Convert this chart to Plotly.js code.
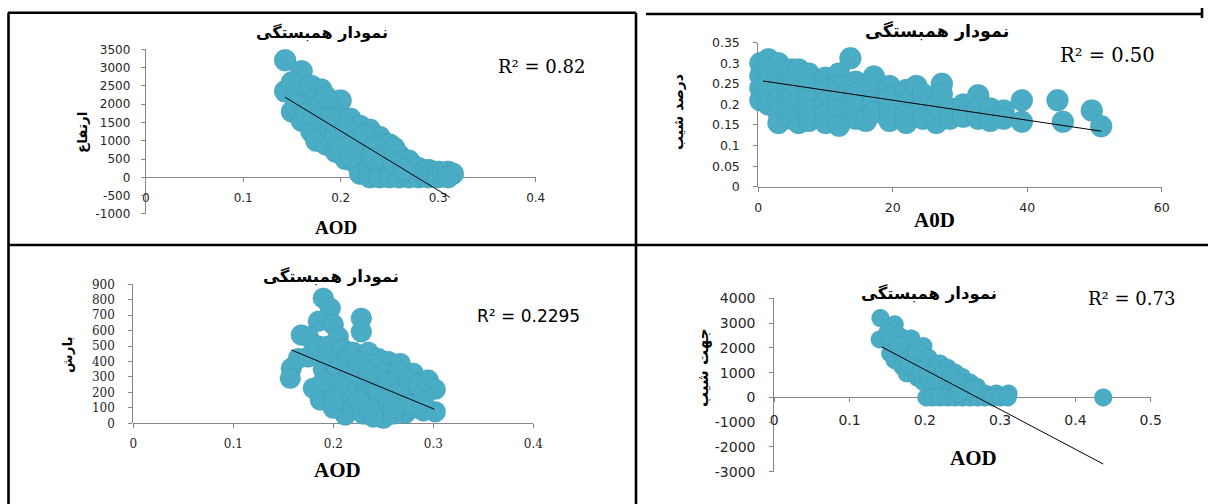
<!DOCTYPE html>
<html><head><meta charset="utf-8">
<script src="https://cdn.plot.ly/plotly-3.0.1.min.js"></script>
<style>html,body{margin:0;padding:0;background:#fff;}#chart{width:1208px;height:504px;}</style>
</head><body><div id="chart"></div>
<script>
// ---------- data ----------
const chartTitle = 'نمودار همبستگی';

// Panel 1: AOD vs ارتفاع
const p1_x = [0.143,0.16,0.143,0.15,0.155,0.15,0.16,0.165,0.17,0.18,0.175,0.17,0.17,0.175,0.185,0.18,0.19,0.2,0.19,0.195,0.2,0.2,0.21,0.21,0.21,0.205,0.215,0.22,0.22,0.22,0.225,0.23,0.23,0.23,0.23,0.24,0.24,0.24,0.24,0.245,0.25,0.25,0.25,0.25,0.255,0.26,0.26,0.26,0.265,0.27,0.27,0.27,0.275,0.28,0.28,0.285,0.29,0.29,0.295,0.3,0.3,0.305,0.31,0.315,0.31,
  0.155,0.165,0.18,0.185,0.19,0.195,0.205,0.215,0.225,0.235,0.245,0.235,0.255,0.265,0.2,0.21];
const p1_y = [3200,2900,2350,2600,2250,1800,1550,2000,2500,2400,2100,1700,1250,1000,900,1500,1900,2100,1300,700,1000,1600,1600,1200,750,500,400,1400,900,100,600,1300,1000,250,0,1100,700,350,0,900,900,500,150,0,800,600,300,0,450,450,150,0,300,250,0,100,200,0,150,150,0,100,150,100,0,
  1950,1750,1950,2200,1600,1150,1350,1000,1150,800,550,500,350,200,800,550];
const p1_trend_x = [0.143, 0.312];
const p1_trend_y = [2190, -550];
const p1_xticks = [0,0.1,0.2,0.3,0.4];
const p1_xticklabels = ['0','0.1','0.2','0.3','0.4'];
const p1_yticks = [-1000,-500,0,500,1000,1500,2000,2500,3000,3500];
const p1_yticklabels = ['-1000','-500','0','500','1000','1500','2000','2500','3000','3500'];
const p1_xtitle = 'AOD', p1_ytitle = 'ارتفاع', p1_r2 = 'R² = 0.82';

// Panel 2: A0D vs درصد شیب
const p2_x = [0.3,0.3,0.3,0.3, 1.5,1.5,1.5,1.5,1.5, 3,3,3,3,3,3, 5,5,5,5,5, 6,6, 7.5,7.5,7.5,7.5,7.5, 10,10,10,10,10, 12,12,12,12,12, 13.7, 14.5,14.5,14.5,14.5, 16, 17.2,17.2,17.2,17.2, 19.5,19.5,19.5,19.5, 22,22,22,22, 23.5, 24.5,24.5,24.5, 26.5,26.5, 27.3,27.3, 28.5,28.5, 30.5,30.5, 32.7,32.7,32.7, 34.5,34.5, 36.5,36.5, 39.2,39.2, 44.5, 45.3, 49.6, 51];
const p2_y = [0.3,0.27,0.24,0.21, 0.31,0.285,0.255,0.225,0.2, 0.3,0.27,0.24,0.21,0.18,0.155, 0.285,0.255,0.225,0.195,0.165, 0.285,0.155, 0.275,0.245,0.215,0.185,0.16, 0.265,0.235,0.205,0.175,0.155, 0.275,0.245,0.215,0.185,0.148, 0.312, 0.255,0.225,0.195,0.165, 0.16, 0.268,0.24,0.21,0.18, 0.245,0.215,0.185,0.16, 0.235,0.205,0.175,0.155, 0.245, 0.225,0.195,0.165, 0.155,0.2, 0.25,0.225, 0.19,0.165, 0.2,0.17, 0.222,0.19,0.165, 0.19,0.16, 0.185,0.165, 0.21,0.158, 0.21, 0.158, 0.185, 0.147];
const p2_trend_x = [0.7, 51];
const p2_trend_y = [0.257, 0.135];
const p2_xticks = [0,20,40,60];
const p2_xticklabels = ['0','20','40','60'];
const p2_yticks = [0,0.05,0.1,0.15,0.2,0.25,0.3,0.35];
const p2_yticklabels = ['0','0.05','0.1','0.15','0.2','0.25','0.3','0.35'];
const p2_xtitle = 'A0D', p2_ytitle = 'درصد شیب', p2_r2 = 'R² = 0.50';

// Panel 3: AOD vs بارش
const p3_x = [0.19,0.197,0.185,0.2,0.205,0.228,0.228,0.168,0.175,0.158,0.157,0.165,0.175,0.185,0.195,0.21,0.22,0.235,0.245,0.255,0.267,0.28,0.295,0.302,0.302,0.272,0.25,0.212,0.18,0.187,0.2,0.19,0.2,0.2,0.21,0.21,0.21,0.22,0.22,0.22,0.23,0.23,0.23,0.24,0.24,0.24,0.25,0.25,0.25,0.26,0.26,0.26,0.27,0.27,0.28,0.28,0.29,0.29,0.24,0.265,
  0.195,0.205,0.215,0.225,0.235,0.245,0.255,0.265,0.275,0.285,0.235,0.215,0.205,0.19,0.2,0.225,0.255,0.275,0.26,0.29];
const p3_y = [810,745,660,640,560,680,593,572,560,356,291,420,430,500,500,480,460,460,420,400,388,324,280,220,75,65,32,54,227,151,97,350,300,200,400,250,150,350,230,100,300,180,60,380,250,130,320,200,100,280,150,60,250,150,200,100,180,80,40,330,
  420,350,300,400,320,200,260,200,280,250,100,200,250,270,150,150,150,120,100,140];
const p3_trend_x = [0.158, 0.301];
const p3_trend_y = [475, 91];
const p3_xticks = [0,0.1,0.2,0.3,0.4];
const p3_xticklabels = ['0','0.1','0.2','0.3','0.4'];
const p3_yticks = [0,100,200,300,400,500,600,700,800,900];
const p3_yticklabels = ['0','100','200','300','400','500','600','700','800','900'];
const p3_xtitle = 'AOD', p3_ytitle = 'بارش', p3_r2 = 'R² = 0.2295';

// Panel 4: AOD vs جهت شیب
const p4_x = [0.141,0.16,0.14,0.15,0.155,0.165,0.175,0.182,0.198,0.154,0.16,0.17,0.17,0.176,0.185,0.185,0.19,0.19,0.198,0.2,0.205,0.21,0.21,0.22,0.22,0.22,0.23,0.23,0.23,0.24,0.24,0.24,0.249,0.25,0.26,0.26,0.269,0.27,0.28,0.295,0.311,0.202,0.21,0.22,0.23,0.24,0.25,0.26,0.27,0.28,0.29,0.3,0.31,0.437,
  0.165,0.18,0.195,0.205,0.215,0.225,0.235,0.245,0.255,0.265,0.245];
const p4_y = [3200,2950,2340,2600,2200,2500,2350,2380,2070,1780,1500,1800,1250,970,1500,1100,1800,800,630,1300,1600,1000,500,1370,800,300,1200,600,150,1000,500,200,834,400,600,250,430,200,160,160,160,0,0,0,0,0,0,0,0,0,0,0,0,0,
  2100,1300,1100,900,700,1000,900,600,250,350,150];
const p4_trend_x = [0.1426, 0.437];
const p4_trend_y = [2040, -2690];
const p4_xticks = [0,0.1,0.2,0.3,0.4,0.5];
const p4_xticklabels = ['0','0.1','0.2','0.3','0.4','0.5'];
const p4_yticks = [-3000,-2000,-1000,0,1000,2000,3000,4000];
const p4_yticklabels = ['-3000','-2000','-1000','0','1000','2000','3000','4000'];
const p4_xtitle = 'AOD', p4_ytitle = 'جهت شیب', p4_r2 = 'R² = 0.73';

// ---------- layout helpers ----------
const W = 1208, H = 504;
const fx = sx => sx / W;
const fy = sy => 1 - sy / H;
const MARK = '#4BACC6', AX = '#868686', TXT = '#262626';
const AR = 'DejaVu Sans';

const panels = [
  {n:'', x:p1_x, y:p1_y, tx:p1_trend_x, ty:p1_trend_y, xr:[0,0.4], yr:[-1000,3500],
   xt:p1_xticks, xtl:p1_xticklabels, yt:p1_yticks, ytl:p1_yticklabels,
   box:[145.7,535.7,49.3,213.9], tick:{family:'DejaVu Sans',size:12,color:TXT},
   ms:22, xstand:5, ystand:8,
   title:[322,33,16], xtitle:[p1_xtitle,336,228,19], ytitle:[p1_ytitle,82,133,13.5],
   r2:[p1_r2,541,67,'DejaVu Serif',18]},
  {n:'2', x:p2_x, y:p2_y, tx:p2_trend_x, ty:p2_trend_y, xr:[0,60], yr:[0,0.35],
   xt:p2_xticks, xtl:p2_xticklabels, yt:p2_yticks, ytl:p2_yticklabels,
   box:[758.3,1161.7,42.7,186.7], tick:{family:'DejaVu Sans',size:12.5,color:TXT},
   ms:22, xstand:5, ystand:11,
   title:[936.7,31.7,17.5], xtitle:[p2_xtitle,934,220,21], ytitle:[p2_ytitle,678,112,14],
   r2:[p2_r2,1107,55,'DejaVu Serif',19.5]},
  {n:'3', x:p3_x, y:p3_y, tx:p3_trend_x, ty:p3_trend_y, xr:[0,0.4], yr:[0,900],
   xt:p3_xticks, xtl:p3_xticklabels, yt:p3_yticks, ytl:p3_yticklabels,
   box:[133.3,533.3,284.3,423.3], tick:{family:'DejaVu Serif',size:12,color:TXT},
   ms:21, xstand:5, ystand:11,
   title:[331,276,16.5], xtitle:[p3_xtitle,337,470,21], ytitle:[p3_ytitle,67,355,13.5],
   r2:[p3_r2,528,316,'DejaVu Sans',17]},
  {n:'4', x:p4_x, y:p4_y, tx:p4_trend_x, ty:p4_trend_y, xr:[0,0.5], yr:[-3000,4000],
   xt:p4_xticks, xtl:p4_xticklabels, yt:p4_yticks, ytl:p4_yticklabels,
   box:[774.3,1150.7,298.3,471.7], tick:{family:'DejaVu Sans',size:14,color:TXT},
   ms:18, xstand:6, ystand:11,
   title:[929,293,16.5], xtitle:[p4_xtitle,973,458,21], ytitle:[p4_ytitle,703,368,15],
   r2:[p4_r2,1131,298,'DejaVu Serif',18]}
];

const data = [], annotations = [];
const layout = {
  width: W, height: H, margin:{l:0,r:0,t:0,b:0},
  paper_bgcolor:'#fff', plot_bgcolor:'rgba(0,0,0,0)', showlegend:false,
  shapes: [], annotations
};

panels.forEach(p => {
  const xa = 'x'+p.n, ya = 'y'+p.n;
  const [L,R,T,B] = p.box;
  const ydom = [fy(B), fy(T)];
  const zeroPos = ydom[0] + (0 - p.yr[0])/(p.yr[1]-p.yr[0])*(ydom[1]-ydom[0]);
  layout['xaxis'+p.n] = {
    domain:[fx(L), fx(R)], range:p.xr, anchor:'free', position:zeroPos,
    tickmode:'array', tickvals:p.xt, ticktext:p.xtl, layer:'below traces',
    showline:true, linecolor:AX, linewidth:1, ticks:'outside', ticklen:4, tickcolor:AX,
    showgrid:false, zeroline:false, tickfont:p.tick, ticklabelstandoff:p.xstand, fixedrange:true
  };
  layout['yaxis'+p.n] = {
    domain:ydom, range:p.yr, anchor:xa, layer:'below traces',
    tickmode:'array', tickvals:p.yt, ticktext:p.ytl,
    showline:true, linecolor:AX, linewidth:1, ticks:'outside', ticklen:4, tickcolor:AX,
    showgrid:false, zeroline:false, tickfont:p.tick, ticklabelstandoff:p.ystand, fixedrange:true
  };
  data.push({type:'scatter', mode:'markers', x:p.x, y:p.y, xaxis:xa, yaxis:ya,
    marker:{color:MARK, size:p.ms, line:{width:1, color:'rgba(30,105,130,0.13)'}},
    hoverinfo:'skip', cliponaxis:false});
  data.push({type:'scatter', mode:'lines', x:p.tx, y:p.ty, xaxis:xa, yaxis:ya,
    line:{color:'#000', width:1}, hoverinfo:'skip', cliponaxis:false});
  annotations.push({xref:'paper', yref:'paper', x:fx(p.title[0]), y:fy(p.title[1]),
    text:'<b>'+chartTitle+'</b>', showarrow:false, xanchor:'center', yanchor:'middle',
    font:{family:AR, size:p.title[2], color:'#000'}});
  annotations.push({xref:'paper', yref:'paper', x:fx(p.xtitle[1]), y:fy(p.xtitle[2]),
    text:'<b>'+p.xtitle[0]+'</b>', showarrow:false, xanchor:'center', yanchor:'middle',
    font:{family:'Liberation Serif', size:p.xtitle[3], color:'#000'}});
  annotations.push({xref:'paper', yref:'paper', x:fx(p.ytitle[1]), y:fy(p.ytitle[2]),
    text:'<b>'+p.ytitle[0]+'</b>', showarrow:false, xanchor:'center', yanchor:'middle', textangle:-90,
    font:{family:AR, size:p.ytitle[3], color:'#000'}});
  annotations.push({xref:'paper', yref:'paper', x:fx(p.r2[1]), y:fy(p.r2[2]),
    text:p.r2[0], showarrow:false, xanchor:'center', yanchor:'middle',
    font:{family:p.r2[3], size:p.r2[4], color:'#000'}});
});

// table borders
const BL = {color:'#000', width:2.6};
[[8,12.7,636,12.7],[646,14,1203,14],[1202,8,1202,18],[8.5,12.7,8.5,504],[636,12.7,636,504],[8,245,1208,245]].forEach(s => {
  layout.shapes.push({type:'line', xref:'paper', yref:'paper',
    x0:fx(s[0]), y0:fy(s[1]), x1:fx(s[2]), y1:fy(s[3]), line:BL});
});

Plotly.newPlot('chart', data, layout, {staticPlot:true, displayModeBar:false});
</script></body></html>
